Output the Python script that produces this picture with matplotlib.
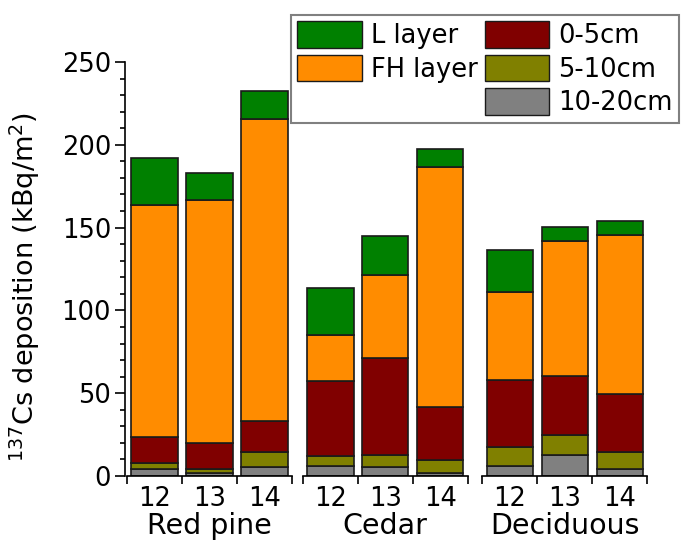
import matplotlib
matplotlib.use("Agg")
import matplotlib.pyplot as plt
import matplotlib.transforms as mtransforms
from matplotlib.patches import Patch

plt.rcParams['font.family'] = ['DejaVu Sans']

# Data (kBq/m2), order: Red pine 12,13,14 / Cedar 12,13,14 / Deciduous 12,13,14
groups = ['Red pine', 'Cedar', 'Deciduous']
years = ['12', '13', '14']
cm10_20 = [4.4, 1.6, 5.3, 6.2, 5.2, 2.0, 6.0, 12.9, 4.0]
cm5_10 = [3.3, 2.4, 9.4, 5.8, 7.3, 7.7, 11.3, 11.7, 10.7]
cm0_5 = [15.7, 16.1, 18.3, 45.5, 59.0, 31.8, 40.7, 36.0, 35.0]
fh_layer = [140.1, 146.4, 182.8, 27.6, 50.1, 144.9, 53.1, 81.1, 95.6]
l_layer = [28.7, 16.5, 16.7, 28.2, 23.5, 11.1, 25.4, 8.5, 8.5]

layers = [
    ('10-20cm', cm10_20, '#808080'),
    ('5-10cm', cm5_10, '#808000'),
    ('0-5cm', cm0_5, '#800000'),
    ('FH layer', fh_layer, '#FF8C00'),
    ('L layer', l_layer, '#008000'),
]

group_start = [0, 3.2, 6.47]
xpos = [g + i for g in group_start for i in range(len(years))]

fig = plt.figure(figsize=(6.84, 5.43), dpi=100)
ax = fig.add_axes([125 / 684, 1 - 476 / 543, (648 - 125) / 684, (476 - 62) / 543])

bottom = [0.0] * len(xpos)
for name, vals, col in layers:
    ax.bar(xpos, vals, width=0.85, bottom=bottom, color=col,
           edgecolor='#1a1a1a', linewidth=1.2)
    bottom = [b + v for b, v in zip(bottom, vals)]

ax.set_xlim(-0.53, 8.98)
ax.set_ylim(0, 250)
ax.set_yticks(range(0, 251, 50))
ax.set_yticks(range(0, 251, 10), minor=True)
ax.tick_params(axis='y', which='major', length=7, width=1.2, labelsize=18.5, pad=3)
ax.tick_params(axis='y', which='minor', length=3.5, width=1.2)

for s in ['top', 'right', 'bottom']:
    ax.spines[s].set_visible(False)
ax.spines['left'].set_linewidth(1.2)

# segmented x axis per group, ticks at bar boundaries
trans = mtransforms.blended_transform_factory(ax.transData, ax.transAxes)
bounds = []
for g in group_start:
    ax.plot([g - 0.5, g + 2.5], [0, 0], color='black', lw=1.2,
            transform=trans, clip_on=False)
    bounds += [g - 0.5 + k for k in range(4)]
ax.set_xticks(bounds)
ax.set_xticklabels([''] * len(bounds))
ax.tick_params(axis='x', which='major', length=6, width=1.2, direction='out')
ax.set_xticks(xpos, minor=True)
ax.set_xticklabels(years * len(groups), minor=True)
ax.tick_params(axis='x', which='minor', length=0, labelsize=18.5, pad=7)

for g, name in zip(group_start, groups):
    ax.text(g + 1, -0.087, name, transform=trans, ha='center', va='top',
            fontsize=20.5)

ax.set_ylabel('$^{137}$Cs deposition (kBq/m$^2$)', fontsize=19.5)
ax.yaxis.set_label_coords(-0.158, 0.456)

handles = [Patch(facecolor='#008000', edgecolor='#1a1a1a', label='L layer'),
           Patch(facecolor='#FF8C00', edgecolor='#1a1a1a', label='FH layer'),
           Patch(facecolor='none', edgecolor='none', label=''),
           Patch(facecolor='#800000', edgecolor='#1a1a1a', label='0-5cm'),
           Patch(facecolor='#808000', edgecolor='#1a1a1a', label='5-10cm'),
           Patch(facecolor='#808080', edgecolor='#1a1a1a', label='10-20cm')]
leg = fig.legend(handles=handles, ncol=2, loc='upper left',
                 bbox_to_anchor=(291 / 684, 1 - 15 / 543), fontsize=18.5,
                 handlelength=2.5, handleheight=1.2, labelspacing=0.22,
                 columnspacing=0.3, handletextpad=0.35, borderpad=0.25,
                 borderaxespad=0, fancybox=False, framealpha=1)
leg.get_frame().set_edgecolor('#808080')
leg.get_frame().set_linewidth(1.5)

fig.savefig('out.png', dpi=100)
